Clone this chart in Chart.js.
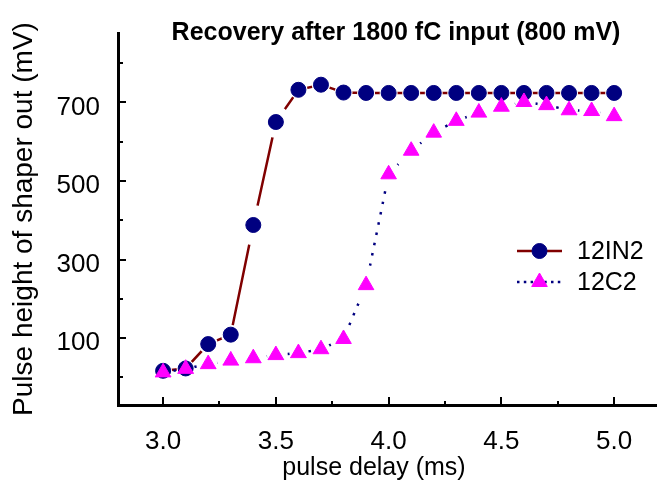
<!DOCTYPE html>
<html>
<head>
<meta charset="utf-8">
<script src="https://cdn.jsdelivr.net/npm/chart.js@4"></script>
<style>
  html, body { margin: 0; padding: 0; background: #fff; }
  #wrap { width: 657px; height: 491px; }
</style>
</head>
<body>
<div id="wrap"><canvas id="chart" width="657" height="491"></canvas></div>
<script>
// 数据 (pulse delay in ms, pulse height in mV)
const delays = [3.0, 3.1, 3.2, 3.3, 3.4, 3.5, 3.6, 3.7, 3.8, 3.9, 4.0,
                4.1, 4.2, 4.3, 4.4, 4.5, 4.6, 4.7, 4.8, 4.9, 5.0];
const in2Values = [17, 23, 85, 109, 388, 650, 732, 745, 725, 724, 724,
                   724, 724, 724, 724, 724, 724, 724, 724, 724, 724];
const c2Values = [13, 22, 34, 43, 49, 57, 62, 72, 98, 235, 517,
                  577, 623, 653, 674, 689, 701, 693, 680, 678, 665];
const seriesNames = ['12IN2', '12C2'];
const xTicks = [3.0, 3.5, 4.0, 4.5, 5.0];
const xMinorTicks = [3.25, 3.75, 4.25, 4.75];
const yTicks = [100, 300, 500, 700];
const yMinorTicks = [0, 200, 400, 600, 800];
const chartTitle = 'Recovery after 1800 fC input (800 mV)';
const xTitle = 'pulse delay (ms)';
const yTitle = 'Pulse height of shaper out (mV)';

const FONT = 'Arial, "Liberation Sans", sans-serif';

/**
 * 线段在标记附近断开 (like the original plot)
 */
const markerGaps = {
    id: 'markerGaps',
    beforeDatasetDraw(chart, args) {
        const pts = args.meta.data;
        const ctx = chart.ctx;
        ctx.save();
        ctx.beginPath();
        ctx.rect(0, 0, chart.width, chart.height);
        pts.forEach((pt, i) => {
            const d = [];
            if (i > 0) d.push(Math.hypot(pt.x - pts[i - 1].x, pt.y - pts[i - 1].y));
            if (i < pts.length - 1) d.push(Math.hypot(pt.x - pts[i + 1].x, pt.y - pts[i + 1].y));
            const r = Math.min(20, 0.4 * Math.min(...d));
            ctx.moveTo(pt.x + r, pt.y);
            ctx.arc(pt.x, pt.y, r, 0, Math.PI * 2, true);
        });
        ctx.clip();
    },
    afterDatasetDraw(chart, args) {
        const ctx = chart.ctx;
        ctx.restore();
        args.meta.data.forEach(pt => pt.draw(ctx, chart.chartArea));
    }
};

/**
 * 刻度线 (inward), 标题, 图例
 */
const decorations = {
    id: 'decorations',
    beforeDatasetsDraw(chart) {
        const {ctx, chartArea: a, scales: {x, y}} = chart;
        ctx.save();
        ctx.strokeStyle = '#000';
        ctx.lineWidth = 2;
        ctx.beginPath();
        xTicks.forEach(v => {
            const px = Math.round(x.getPixelForValue(v));
            ctx.moveTo(px, a.bottom); ctx.lineTo(px, a.bottom - 8);
        });
        xMinorTicks.forEach(v => {
            const px = Math.round(x.getPixelForValue(v));
            ctx.moveTo(px, a.bottom); ctx.lineTo(px, a.bottom - 4);
        });
        yTicks.forEach(v => {
            const py = Math.round(y.getPixelForValue(v));
            ctx.moveTo(a.left, py); ctx.lineTo(a.left + 8, py);
        });
        yMinorTicks.forEach(v => {
            const py = Math.round(y.getPixelForValue(v));
            ctx.moveTo(a.left, py); ctx.lineTo(a.left + 5, py);
        });
        ctx.stroke();
        ctx.restore();
    },
    afterDraw(chart) {
        const ctx = chart.ctx;
        const sets = chart.data.datasets;
        ctx.save();
        ctx.fillStyle = '#000';
        ctx.textAlign = 'center';
        ctx.textBaseline = 'middle';

        // 标题
        ctx.font = 'bold 25px ' + FONT;
        ctx.fillText(chartTitle, 396, 33);

        // 坐标轴标题
        ctx.font = '25px ' + FONT;
        ctx.fillText(xTitle, 374, 468);
        ctx.save();
        ctx.translate(24, 219);
        ctx.rotate(-Math.PI / 2);
        ctx.font = '28px ' + FONT;
        ctx.fillText(yTitle, 0, 0);
        ctx.restore();

        // 图例
        const rows = [251, 282];
        sets.forEach((ds, i) => {
            const yy = rows[i];
            ctx.save();
            ctx.strokeStyle = ds.borderColor;
            ctx.lineWidth = ds.borderWidth;
            ctx.setLineDash(ds.borderDash ? [2.5, 4.3] : []);
            ctx.beginPath();
            ctx.moveTo(517, yy);
            ctx.lineTo(562, yy);
            ctx.stroke();
            ctx.setLineDash([]);
            ctx.fillStyle = ds.pointBackgroundColor;
            ctx.strokeStyle = ds.pointBorderColor;
            ctx.lineWidth = ds.pointBorderWidth;
            Chart.helpers.drawPoint(ctx, {
                pointStyle: ds.pointStyle,
                radius: ds.pointRadius,
                rotation: 0,
                borderWidth: ds.pointBorderWidth
            }, 539.5, yy);
            ctx.restore();
            ctx.font = '25px ' + FONT;
            ctx.textAlign = 'left';
            ctx.fillText(ds.label, 577, yy + 1);
        });
        ctx.restore();
    }
};

function buildChart() {
    const ctx = document.getElementById('chart').getContext('2d');
    return new Chart(ctx, {
        type: 'line',
        data: {
            datasets: [
                {
                    label: seriesNames[0],
                    data: delays.map((d, i) => ({x: d, y: in2Values[i]})),
                    borderColor: '#800000',
                    borderWidth: 2.5,
                    pointStyle: 'circle',
                    pointRadius: 7.5,
                    pointBackgroundColor: '#000080',
                    pointBorderColor: '#000080',
                    pointBorderWidth: 1,
                    tension: 0,
                    order: 2
                },
                {
                    label: seriesNames[1],
                    data: delays.map((d, i) => ({x: d, y: c2Values[i]})),
                    borderColor: '#000080',
                    borderWidth: 2.5,
                    borderDash: [2.5, 8],
                    pointStyle: 'triangle',
                    pointRadius: 9,
                    pointBackgroundColor: '#ff00ff',
                    pointBorderColor: '#ff00ff',
                    pointBorderWidth: 1,
                    tension: 0,
                    order: 1
                }
            ]
        },
        options: {
            responsive: false,
            animation: false,
            devicePixelRatio: 1,
            layout: { autoPadding: false, padding: { top: 32, right: 0, left: 0, bottom: 0 } },
            plugins: {
                legend: { display: false },
                title: { display: false },
                tooltip: { enabled: false }
            },
            scales: {
                x: {
                    type: 'linear',
                    min: 2.8,
                    max: 5.19,
                    afterFit: s => { s.height = 86; },
                    afterBuildTicks: s => { s.ticks = xTicks.map(v => ({value: v})); },
                    grid: { display: false, drawTicks: false },
                    border: { display: true, color: '#000', width: 3 },
                    ticks: {
                        color: '#000',
                        padding: 21,
                        maxRotation: 0,
                        font: { family: FONT, size: 26 },
                        callback: v => Number(v).toFixed(1)
                    }
                },
                y: {
                    type: 'linear',
                    min: -70,
                    max: 875,
                    afterFit: s => { s.width = 118; },
                    afterBuildTicks: s => { s.ticks = yTicks.map(v => ({value: v})); },
                    grid: { display: false, drawTicks: false },
                    border: { display: true, color: '#000', width: 3 },
                    ticks: {
                        color: '#000',
                        padding: 18,
                        labelOffset: 5,
                        font: { family: FONT, size: 26 }
                    }
                }
            }
        },
        plugins: [markerGaps, decorations]
    });
}

if (document.readyState === 'loading') {
    document.addEventListener('DOMContentLoaded', buildChart);
} else {
    buildChart();
}
</script>
</body>
</html>
